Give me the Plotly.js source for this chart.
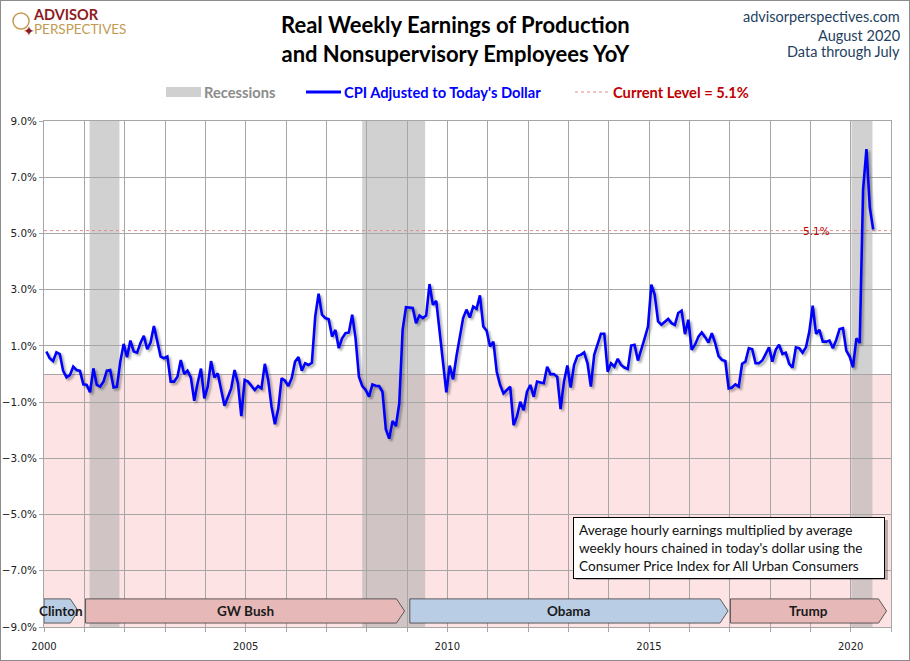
<!DOCTYPE html>
<html>
<head>
<meta charset="utf-8">
<script src="https://cdn.plot.ly/plotly-3.0.1.min.js"></script>
<style>
  body { margin: 0; background: #fff; }
  #chart { width: 910px; height: 661px; box-sizing: border-box; border: 1px solid #8c8c8c; }
  #chart .scatterlayer path.js-line { filter: drop-shadow(2px 2px 1.2px rgba(0,0,0,0.35)); }
</style>
</head>
<body>
<div id="chart"></div>
<script>
// real weekly earnings YoY %, monthly from Jan 2000 through Jul 2020
var yoy = [
  0.80, 0.56, 0.46, 0.77, 0.71, 0.11,-0.12,-0.04, 0.26, 0.14, 0.11,-0.37, // 2000
 -0.39,-0.65, 0.20,-0.39,-0.45,-0.27, 0.12, 0.14,-0.48,-0.45, 0.44, 1.07, // 2001
  0.60, 1.19, 0.80, 0.76, 1.10, 1.36, 0.88, 1.12, 1.71, 1.12, 0.62, 0.56, // 2002
  0.62,-0.27,-0.27,-0.10, 0.50, 0.00, 0.12,-0.13,-0.95,-0.33, 0.19,-0.87, // 2003
 -0.45, 0.46,-0.12, 0.02,-0.57,-1.13,-0.83,-0.51, 0.14,-0.33,-1.50,-0.21, // 2004
 -0.27,-0.43,-0.57,-0.43,-0.51, 0.36,-0.21,-1.17,-1.79,-1.23,-0.15,-0.24, // 2005
 -0.43,-0.15, 0.44, 0.60, 0.12, 0.38, 0.32, 0.40, 2.05, 2.86, 2.11, 1.99, // 2006
  1.95, 1.33, 1.57, 0.92, 1.27, 1.45, 1.48, 2.11, 1.27,-0.10,-0.43,-0.57, // 2007
 -0.81,-0.37,-0.42,-0.43,-0.63,-1.96,-2.30,-1.67,-1.85,-1.05, 1.57, 2.38, // 2008
  2.37, 2.35, 1.81, 2.08, 1.99, 2.08, 3.20, 2.46, 2.60, 1.45, 0.32,-0.65, // 2009
  0.30,-0.19, 0.62, 1.27, 1.99, 2.29, 2.01, 2.40, 2.32, 2.80, 1.69, 1.54, // 2010
  0.98, 1.15, 0.08,-0.39,-0.69,-0.57,-0.45,-1.82,-1.52,-0.99,-1.29,-0.63, // 2011
 -0.39,-0.81,-0.27,-0.30,-0.33, 0.26,-0.01, 0.00,-0.10,-1.25,-0.27, 0.30, // 2012
 -0.48, 0.32, 0.64, 0.68, 0.77, 0.38,-0.45, 0.68, 1.10, 1.43, 1.43, 0.08, // 2013
  0.38, 0.26, 0.54, 0.32, 0.23, 0.18, 1.01, 1.04, 0.48, 0.92, 1.27, 1.69, // 2014
  3.18, 2.82, 1.87, 1.75, 1.85, 1.96, 1.81, 1.75, 2.17, 2.25, 1.42, 1.93, // 2015
  0.86, 1.04, 1.33, 1.48, 1.31, 1.12, 1.45, 1.10, 0.64, 0.50, 0.46,-0.51, // 2016
 -0.48,-0.37,-0.45, 0.36, 0.44, 0.92, 0.88, 0.38, 0.38, 0.48, 0.71, 0.95, // 2017
  0.44, 0.86, 1.04, 0.71, 0.76, 0.36, 0.23, 0.95, 0.92, 0.76, 0.95, 1.51, // 2018
  2.43, 1.43, 1.57, 1.15, 1.15, 1.19, 0.92, 1.21, 1.60, 1.63, 0.83, 0.62, // 2019
  0.24, 1.27, 1.10, 6.57, 8.00, 5.92, 5.14                                // 2020
];
var firstYear = 2000;
var currentLevel = 5.1;

// recessions, as decimal years
var recStart = [2001.13, 2007.89, 2020.02];
var recEnd   = [2001.87, 2009.45, 2020.54];

// presidential terms shown at the bottom
var presNames = ['Clinton', 'GW Bush', 'Obama', 'Trump'];
var presStart = [2000.0, 2001.03, 2009.07, 2017.02];
var presEnd   = [2000.85, 2008.94, 2016.96, 2020.89];
var presColor = ['#b9cde5', '#e6b9b8', '#b9cde5', '#e6b9b8'];

var noteLines = ['Average hourly earnings multiplied by average',
                 "weekly hours chained in today's dollar using the",
                 'Consumer Price Index for All Urban Consumers'];

function plotChart() {
  // month index -> decimal year on the x axis
  var xs = [];
  for (var i = 0; i < yoy.length; i++) xs.push(firstYear + (i + 0.7) / 12);

  var line = {
    x: xs, y: yoy, type: 'scatter', mode: 'lines',
    line: {color: '#0000ff', width: 2.6},
    hoverinfo: 'skip', showlegend: false
  };

  // image pixel -> paper coords (plot area is 44..891 x 121..627)
  function px(x) { return (x - 44) / 847; }
  function py(y) { return (627 - y) / 506; }

  var shapes = [];
  shapes.push({type: 'rect', layer: 'below', xref: 'paper', yref: 'y',
    x0: 0, x1: 1, y0: -9, y1: 0, fillcolor: '#fde3e3', line: {width: 0}});
  for (var r = 0; r < recStart.length; r++) {
    shapes.push({type: 'rect', layer: 'below', xref: 'x', yref: 'paper',
      x0: recStart[r], x1: recEnd[r], y0: 0, y1: 1,
      fillcolor: 'rgba(172,172,172,0.55)', line: {width: 0}});
  }
  shapes.push({type: 'line', layer: 'between', xref: 'paper', yref: 'y',
    x0: 0, x1: 1, y0: currentLevel, y1: currentLevel,
    line: {color: '#e58c8c', width: 1, dash: 'dot'}});

  var annotations = [];
  var yTop = -8.0, yBot = -8.86, yMid = (yTop + yBot) / 2, tip = 0.2;
  for (var p = 0; p < presNames.length; p++) {
    var a = presStart[p], b = presEnd[p];
    shapes.push({type: 'path', layer: 'above', xref: 'x', yref: 'y',
      path: 'M' + a + ',' + yTop + ' L' + (b - tip) + ',' + yTop + ' L' + b + ',' + yMid +
            ' L' + (b - tip) + ',' + yBot + ' L' + a + ',' + yBot + ' Z',
      fillcolor: presColor[p], line: {color: '#3a3a3a', width: 0.8}});
    annotations.push({xref: 'x', yref: 'y', x: (a + b) / 2, y: yMid, showarrow: false,
      text: '<b>' + presNames[p] + '</b>',
      font: {family: 'Lato', size: 13.5, color: '#1a1a1a'}});
  }

  // legend, drawn by hand
  shapes.push({type: 'rect', xref: 'paper', yref: 'paper',
    x0: px(166), x1: px(201), y0: py(97), y1: py(87), fillcolor: '#d0d0d0', line: {width: 0}});
  shapes.push({type: 'line', xref: 'paper', yref: 'paper',
    x0: px(306), x1: px(341), y0: py(92), y1: py(92), line: {color: '#0000ff', width: 3}});
  shapes.push({type: 'line', xref: 'paper', yref: 'paper',
    x0: px(575), x1: px(609), y0: py(92), y1: py(92), line: {color: '#e58c8c', width: 1, dash: 'dot'}});
  var legTexts = [['Recessions', 202, '#8c8c8c'],
                  ["CPI Adjusted to Today's Dollar", 342, '#0000ff'],
                  ['Current Level = ' + currentLevel.toFixed(1) + '%', 611, '#c00000']];
  legTexts.forEach(function (t) {
    annotations.push({xref: 'paper', yref: 'paper', x: px(t[1]), y: py(92),
      xanchor: 'left', yanchor: 'middle', showarrow: false, text: '<b>' + t[0] + '</b>',
      font: {family: 'Lato', size: 14.7, color: t[2]}});
  });

  // current level label
  annotations.push({xref: 'x', yref: 'y', x: 2019.15, y: currentLevel, showarrow: false,
    text: currentLevel.toFixed(1) + '%', font: {family: 'DejaVu Sans', size: 10.5, color: '#c00000'}});

  // explanatory note
  shapes.push({type: 'rect', xref: 'paper', yref: 'paper', layer: 'above',
    x0: px(576), x1: px(888), y0: py(580), y1: py(520), fillcolor: 'rgba(0,0,0,0.25)', line: {width: 0}});
  annotations.push({xref: 'paper', yref: 'paper', x: px(573), y: py(517),
    xanchor: 'left', yanchor: 'top', showarrow: false, align: 'left',
    text: noteLines.join('<br>'), bgcolor: '#ffffff', bordercolor: '#000000',
    borderwidth: 1, borderpad: 5, width: 300, height: 50,
    font: {family: 'Lato', size: 13.6, color: '#111'}});

  // title
  annotations.push({xref: 'paper', yref: 'paper', x: px(455), y: py(39),
    xanchor: 'center', yanchor: 'middle', showarrow: false,
    text: '<b>Real Weekly Earnings of Production<br>and Nonsupervisory Employees YoY</b>',
    font: {family: 'Lato', size: 22, color: '#000'}});

  // header text
  var navy = '#243f60';
  [['advisorperspectives.com', 16], ['August 2020', 35], ['Data through July', 52]].forEach(function (t) {
    annotations.push({xref: 'paper', yref: 'paper', x: px(902), y: py(t[1]),
      xanchor: 'right', yanchor: 'middle', showarrow: false, text: t[0],
      font: {family: 'Lato', size: 14.5, color: navy}});
  });

  // logo
  annotations.push({xref: 'paper', yref: 'paper', x: px(31), y: py(21), xanchor: 'left', yanchor: 'middle',
    showarrow: false, align: 'left',
    text: '<b><span style="color:#8e1b1e;font-size:14.5px">ADVISOR</span></b><br>' +
          '<span style="color:#c49a52;font-size:13.5px">PERSPECTIVES</span>',
    font: {family: 'Lato', size: 11, color: '#c49a52'}});
  shapes.push({type: 'circle', xref: 'paper', yref: 'paper',
    x0: px(13), x1: px(29), y0: py(29), y1: py(13), line: {color: '#c49a52', width: 1.5}});
  annotations.push({xref: 'paper', yref: 'paper', x: px(21), y: py(21), showarrow: false,
    text: '\u2726', font: {family: 'DejaVu Sans', size: 14, color: '#8e1b1e'}});

  var layout = {
    width: 908, height: 659,
    margin: {l: 43, r: 18, t: 120, b: 33},
    paper_bgcolor: '#ffffff', plot_bgcolor: '#ffffff',
    showlegend: false,
    xaxis: {range: [2000, 2021], tick0: 2000, dtick: 5, tickformat: 'd',
      showgrid: true, gridcolor: '#a6a6a6', gridwidth: 1,
      ticks: 'outside', ticklen: 4, tickcolor: '#a6a6a6', ticklabelstandoff: 6,
      minor: {dtick: 1, showgrid: true, gridcolor: '#a6a6a6', gridwidth: 1, ticks: 'outside', ticklen: 4, tickcolor: '#a6a6a6'},
      showline: true, linecolor: '#a6a6a6', mirror: true, zeroline: false,
      tickfont: {family: 'DejaVu Sans', size: 10, color: '#222'}},
    yaxis: {range: [-9, 9], tick0: -9, dtick: 2, tickformat: '.1f', ticksuffix: '%',
      showgrid: true, gridcolor: '#a6a6a6', gridwidth: 1,
      ticks: 'outside', ticklen: 4, tickcolor: '#a6a6a6', ticklabelstandoff: 0,
      zeroline: true, zerolinecolor: '#a6a6a6', zerolinewidth: 1,
      showline: true, linecolor: '#a6a6a6', mirror: true,
      tickfont: {family: 'DejaVu Sans', size: 10.4, color: '#222'}},
    shapes: shapes,
    annotations: annotations
  };

  Plotly.newPlot('chart', [line], layout, {staticPlot: true});
}
plotChart();
</script>
</body>
</html>
